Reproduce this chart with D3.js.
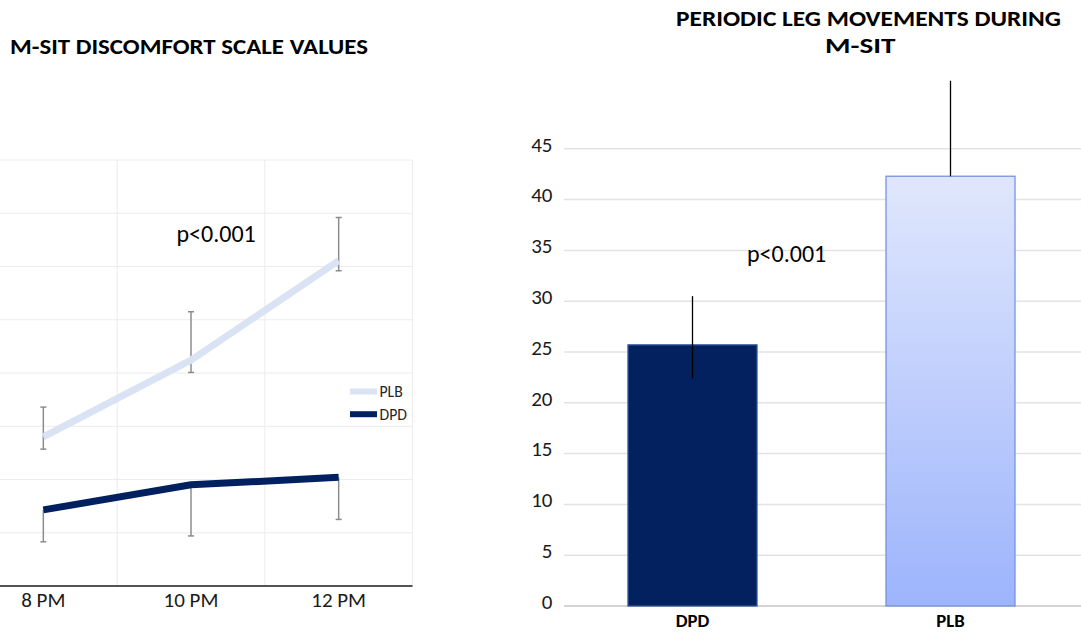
<!DOCTYPE html>
<html>
<head>
<meta charset="utf-8">
<script src="https://cdn.jsdelivr.net/npm/d3@7"></script>
<style>
  body { margin: 0; background: #fff; }
  svg { display: block; font-family: Carlito, Calibri, Lato, sans-serif; }
</style>
</head>
<body>
<svg width="1081" height="635"></svg>
<script>
// left panel: discomfort scale over the night
const times = ["8 PM", "10 PM", "12 PM"];
const plbMean = [2.8, 4.24, 6.11];
const plbLow = [2.57, 4.01, 5.92];
const plbHigh = [3.36, 5.15, 6.92];
const dpdMean = [1.43, 1.9, 2.04];
const dpdLow = [0.83, 0.94, 1.25];
const dpdHigh = [1.43, 1.9, 2.04];
const leftGrid = [0, 1, 2, 3, 4, 5, 6, 7, 8];

// right panel: periodic leg movements
const groups = ["DPD", "PLB"];
const plmMean = [25.7, 42.3];
const plmLow = [22.4, 42.3];
const plmHigh = [30.5, 51.7];
const plmTicks = [0, 5, 10, 15, 20, 25, 30, 35, 40, 45];

const svg = d3.select("svg");

const defs = svg.append("defs");
const grad = defs
  .append("linearGradient")
  .attr("id", "plbFill")
  .attr("x1", 0)
  .attr("y1", 0)
  .attr("x2", 0)
  .attr("y2", 1);
grad.append("stop").attr("offset", "0%").attr("stop-color", "#e0e7fc");
grad.append("stop").attr("offset", "100%").attr("stop-color", "#9db4fc");

/* ---------- left chart ---------- */
const xL = d3.scaleBand().domain(times).range([-30.5, 412.5]);
const yL = d3.scaleLinear().domain([0, 8]).range([586, 160]);
const cx = (d) => xL(d) + xL.bandwidth() / 2;

const left = svg.append("g");

// titles are wider than the font's natural width, so stretch them
left
  .append("text")
  .attr("x", 10)
  .attr("y", 54.4)
  .attr("font-size", 21.5)
  .attr("font-weight", "bold")
  .attr("fill", "#000")
  .attr("textLength", 358)
  .attr("lengthAdjust", "spacingAndGlyphs")
  .text("M-SIT DISCOMFORT SCALE VALUES");

left
  .selectAll(".hgrid")
  .data(leftGrid.filter((d) => d > 0))
  .join("line")
  .attr("x1", 0)
  .attr("x2", 412.5)
  .attr("y1", (d) => yL(d))
  .attr("y2", (d) => yL(d))
  .attr("stroke", "#ececec")
  .attr("stroke-width", 1);

// vertical grid sits on the band boundaries
left
  .selectAll(".vgrid")
  .data(times.slice(1).concat(["end"]))
  .join("line")
  .attr("x1", (d) => (d === "end" ? 412.5 : xL(d)))
  .attr("x2", (d) => (d === "end" ? 412.5 : xL(d)))
  .attr("y1", yL(8))
  .attr("y2", yL(0))
  .attr("stroke", "#ececec")
  .attr("stroke-width", 1);

left
  .append("line")
  .attr("x1", 0)
  .attr("x2", 412.5)
  .attr("y1", yL(0))
  .attr("y2", yL(0))
  .attr("stroke", "#1a1a1a")
  .attr("stroke-width", 1.5);

left
  .selectAll(".xlab")
  .data(times)
  .join("text")
  .attr("x", cx)
  .attr("y", 606.5)
  .attr("text-anchor", "middle")
  .attr("font-size", 21)
  .attr("fill", "#1a1a1a")
  .text((d) => d);

const series = [
  { name: "PLB", mean: plbMean, low: plbLow, high: plbHigh, color: "#dae3f3" },
  { name: "DPD", mean: dpdMean, low: dpdLow, high: dpdHigh, color: "#002060" },
];

const line = d3
  .line()
  .x((d, i) => cx(times[i]))
  .y((d) => yL(d));

// error bars under the lines
series.forEach((s) => {
  const eg = left.append("g").attr("stroke", "#8c8c8c").attr("stroke-width", 1.5);
  times.forEach((t, i) => {
    const x = cx(t);
    eg.append("line")
      .attr("x1", x)
      .attr("x2", x)
      .attr("y1", yL(s.low[i]))
      .attr("y2", yL(s.high[i]));
    [s.low[i], s.high[i]].forEach((v) => {
      if (v === s.mean[i]) return;
      eg.append("line")
        .attr("x1", x - 3)
        .attr("x2", x + 3)
        .attr("y1", yL(v))
        .attr("y2", yL(v));
    });
  });
});

series.forEach((s) => {
  left
    .append("path")
    .attr("d", line(s.mean))
    .attr("fill", "none")
    .attr("stroke", s.color)
    .attr("stroke-width", 7)
    .attr("stroke-linejoin", "round");
});

left
  .append("text")
  .attr("x", 176.5)
  .attr("y", 241.5)
  .attr("font-size", 24)
  .attr("fill", "#000")
  .text("p<0.001");

const legend = left
  .selectAll(".leg")
  .data(series)
  .join("g")
  .attr("transform", (d, i) => `translate(350,${391.5 + i * 22.7})`);
legend
  .append("line")
  .attr("x1", 0)
  .attr("x2", 27)
  .attr("stroke", (d) => d.color)
  .attr("stroke-width", 6);
legend
  .append("text")
  .attr("x", 29.5)
  .attr("y", 5.5)
  .attr("font-size", 15.7)
  .attr("fill", "#262626")
  .text((d) => d.name);

/* ---------- right chart ---------- */
const xR = d3
  .scaleBand()
  .domain(groups)
  .range([563.5, 1079.5])
  .paddingInner(0.5)
  .paddingOuter(0.25);
const yR = d3.scaleLinear().domain([0, 50]).range([606, 98]);

const right = svg.append("g");

const titleLines = [
  { text: "PERIODIC LEG MOVEMENTS DURING", x: 676, w: 385, y: 25.8 },
  { text: "M-SIT", x: 825, w: 70.5, y: 53.4 },
];
right
  .selectAll(".title")
  .data(titleLines)
  .join("text")
  .attr("x", (d) => d.x)
  .attr("y", (d) => d.y)
  .attr("font-size", 21.5)
  .attr("font-weight", "bold")
  .attr("fill", "#000")
  .attr("textLength", (d) => d.w)
  .attr("lengthAdjust", "spacingAndGlyphs")
  .text((d) => d.text);

right
  .selectAll(".grid")
  .data(plmTicks)
  .join("line")
  .attr("x1", 564)
  .attr("x2", 1081)
  .attr("y1", (d) => yR(d))
  .attr("y2", (d) => yR(d))
  .attr("stroke", (d) => (d === 0 ? "#d4d4d4" : "#e3e3e3"))
  .attr("stroke-width", (d) => (d === 0 ? 2 : 1.5));

right
  .selectAll(".ytick")
  .data(plmTicks)
  .join("text")
  .attr("x", 552.5)
  .attr("y", (d) => yR(d) + 2.7)
  .attr("text-anchor", "end")
  .attr("font-size", 21)
  .attr("fill", "#1a1a1a")
  .text((d) => d);

right
  .selectAll(".bar")
  .data(groups)
  .join("rect")
  .attr("x", (d) => xR(d))
  .attr("width", xR.bandwidth())
  .attr("y", (d, i) => yR(plmMean[i]))
  .attr("height", (d, i) => yR(0) - yR(plmMean[i]))
  .attr("fill", (d, i) => (i === 0 ? "#03205f" : "url(#plbFill)"))
  .attr("stroke", (d, i) => (i === 0 ? "#2e5597" : "#7594e0"))
  .attr("stroke-width", 1.3);

right
  .selectAll(".err")
  .data(groups)
  .join("line")
  .attr("x1", (d) => xR(d) + xR.bandwidth() / 2)
  .attr("x2", (d) => xR(d) + xR.bandwidth() / 2)
  .attr("y1", (d, i) => yR(plmLow[i]))
  .attr("y2", (d, i) => yR(plmHigh[i]))
  .attr("stroke", "#000")
  .attr("stroke-width", 1.3);

right
  .selectAll(".xlab")
  .data(groups)
  .join("text")
  .attr("x", (d) => xR(d) + xR.bandwidth() / 2)
  .attr("y", 627)
  .attr("text-anchor", "middle")
  .attr("font-size", 18.7)
  .attr("font-weight", "bold")
  .attr("fill", "#000")
  .text((d) => d);

right
  .append("text")
  .attr("x", 747)
  .attr("y", 262)
  .attr("font-size", 24)
  .attr("fill", "#000")
  .text("p<0.001");
</script>
</body>
</html>
